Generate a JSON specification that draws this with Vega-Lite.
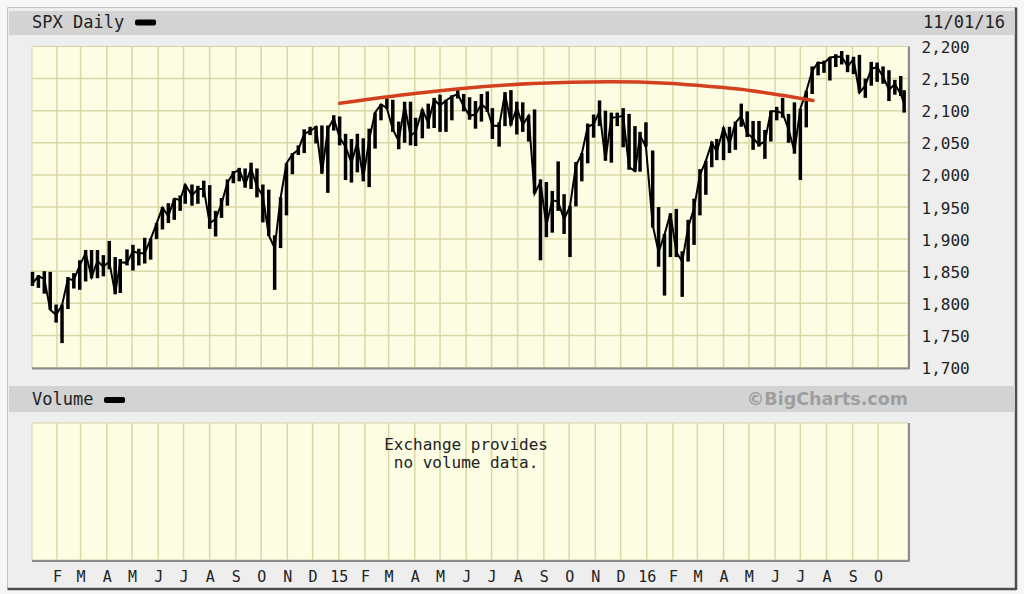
{
  "$schema": "https://vega.github.io/schema/vega-lite/v6.json",
  "width": 876,
  "height": 321,
  "autosize": {"type": "none"},
  "padding": {"left": 32, "top": 46.5, "right": 116, "bottom": 226.5},
  "background": "#eeeeee",
  "config": {"view": {"stroke": null}},
  "resolve": {"axis": {"x": "independent", "y": "independent"}},
  "datasets": {
    "px": [
      {"d":"2014-01-03","lo":1827,"hi":1849,"c":1831},
      {"d":"2014-01-10","lo":1824,"hi":1844,"c":1842},
      {"d":"2014-01-17","lo":1815,"hi":1850,"c":1838},
      {"d":"2014-01-24","lo":1790,"hi":1849,"c":1790},
      {"d":"2014-01-31","lo":1770,"hi":1798,"c":1782},
      {"d":"2014-02-07","lo":1738,"hi":1798,"c":1797},
      {"d":"2014-02-14","lo":1791,"hi":1841,"c":1838},
      {"d":"2014-02-21","lo":1823,"hi":1847,"c":1836},
      {"d":"2014-02-28","lo":1821,"hi":1867,"c":1859},
      {"d":"2014-03-07","lo":1834,"hi":1883,"c":1878},
      {"d":"2014-03-14","lo":1839,"hi":1883,"c":1841},
      {"d":"2014-03-21","lo":1839,"hi":1883,"c":1866},
      {"d":"2014-03-28","lo":1842,"hi":1875,"c":1857},
      {"d":"2014-04-04","lo":1853,"hi":1897,"c":1865},
      {"d":"2014-04-11","lo":1814,"hi":1872,"c":1815},
      {"d":"2014-04-17","lo":1816,"hi":1869,"c":1864},
      {"d":"2014-04-25","lo":1859,"hi":1884,"c":1863},
      {"d":"2014-05-02","lo":1851,"hi":1891,"c":1881},
      {"d":"2014-05-09","lo":1859,"hi":1885,"c":1878},
      {"d":"2014-05-16","lo":1862,"hi":1902,"c":1878},
      {"d":"2014-05-23","lo":1868,"hi":1901,"c":1900},
      {"d":"2014-05-30","lo":1900,"hi":1925,"c":1924},
      {"d":"2014-06-06","lo":1915,"hi":1950,"c":1949},
      {"d":"2014-06-13","lo":1925,"hi":1956,"c":1936},
      {"d":"2014-06-20","lo":1930,"hi":1963,"c":1963},
      {"d":"2014-06-27","lo":1944,"hi":1968,"c":1961},
      {"d":"2014-07-03","lo":1955,"hi":1985,"c":1985},
      {"d":"2014-07-11","lo":1952,"hi":1985,"c":1968},
      {"d":"2014-07-18","lo":1955,"hi":1983,"c":1978},
      {"d":"2014-07-25","lo":1965,"hi":1991,"c":1978},
      {"d":"2014-08-01","lo":1916,"hi":1984,"c":1925},
      {"d":"2014-08-08","lo":1904,"hi":1944,"c":1931},
      {"d":"2014-08-15","lo":1933,"hi":1964,"c":1955},
      {"d":"2014-08-22","lo":1952,"hi":1993,"c":1988},
      {"d":"2014-08-29","lo":1987,"hi":2006,"c":2003},
      {"d":"2014-09-05","lo":1990,"hi":2011,"c":2008},
      {"d":"2014-09-12","lo":1980,"hi":2010,"c":1985},
      {"d":"2014-09-19","lo":1978,"hi":2019,"c":2010},
      {"d":"2014-09-26","lo":1965,"hi":2010,"c":1982},
      {"d":"2014-10-03","lo":1926,"hi":1985,"c":1967},
      {"d":"2014-10-10","lo":1905,"hi":1977,"c":1906},
      {"d":"2014-10-17","lo":1821,"hi":1906,"c":1886},
      {"d":"2014-10-24","lo":1886,"hi":1965,"c":1964},
      {"d":"2014-10-31","lo":1937,"hi":2018,"c":2018},
      {"d":"2014-11-07","lo":2001,"hi":2034,"c":2032},
      {"d":"2014-11-14","lo":2031,"hi":2046,"c":2039},
      {"d":"2014-11-21","lo":2034,"hi":2071,"c":2064},
      {"d":"2014-11-28","lo":2062,"hi":2075,"c":2068},
      {"d":"2014-12-05","lo":2049,"hi":2076,"c":2075},
      {"d":"2014-12-12","lo":2002,"hi":2077,"c":2002},
      {"d":"2014-12-19","lo":1972,"hi":2077,"c":2071},
      {"d":"2014-12-26","lo":2069,"hi":2093,"c":2088},
      {"d":"2015-01-02","lo":2046,"hi":2091,"c":2058},
      {"d":"2015-01-09","lo":1992,"hi":2064,"c":2044},
      {"d":"2015-01-16","lo":1988,"hi":2056,"c":2019},
      {"d":"2015-01-23","lo":2004,"hi":2064,"c":2051},
      {"d":"2015-01-30","lo":1990,"hi":2057,"c":1995},
      {"d":"2015-02-06","lo":1981,"hi":2072,"c":2055},
      {"d":"2015-02-13","lo":2041,"hi":2097,"c":2097},
      {"d":"2015-02-20","lo":2085,"hi":2110,"c":2110},
      {"d":"2015-02-27","lo":2103,"hi":2119,"c":2104},
      {"d":"2015-03-06","lo":2067,"hi":2117,"c":2071},
      {"d":"2015-03-13","lo":2040,"hi":2083,"c":2053},
      {"d":"2015-03-20","lo":2050,"hi":2114,"c":2108},
      {"d":"2015-03-27","lo":2046,"hi":2114,"c":2061},
      {"d":"2015-04-02","lo":2045,"hi":2089,"c":2067},
      {"d":"2015-04-10","lo":2057,"hi":2102,"c":2102},
      {"d":"2015-04-17","lo":2072,"hi":2111,"c":2081},
      {"d":"2015-04-24","lo":2073,"hi":2120,"c":2117},
      {"d":"2015-05-01","lo":2067,"hi":2125,"c":2108},
      {"d":"2015-05-08","lo":2067,"hi":2117,"c":2116},
      {"d":"2015-05-15","lo":2085,"hi":2124,"c":2122},
      {"d":"2015-05-22","lo":2119,"hi":2134,"c":2126},
      {"d":"2015-05-29","lo":2099,"hi":2126,"c":2107},
      {"d":"2015-06-05","lo":2086,"hi":2121,"c":2092},
      {"d":"2015-06-12","lo":2072,"hi":2115,"c":2094},
      {"d":"2015-06-19","lo":2083,"hi":2126,"c":2110},
      {"d":"2015-06-26","lo":2098,"hi":2130,"c":2102},
      {"d":"2015-07-02","lo":2056,"hi":2104,"c":2077},
      {"d":"2015-07-10","lo":2044,"hi":2082,"c":2076},
      {"d":"2015-07-17","lo":2076,"hi":2129,"c":2127},
      {"d":"2015-07-24","lo":2077,"hi":2132,"c":2079},
      {"d":"2015-07-31","lo":2063,"hi":2114,"c":2104},
      {"d":"2015-08-07","lo":2067,"hi":2113,"c":2078},
      {"d":"2015-08-14","lo":2052,"hi":2093,"c":2092},
      {"d":"2015-08-21","lo":1971,"hi":2102,"c":1971},
      {"d":"2015-08-28","lo":1867,"hi":1993,"c":1989},
      {"d":"2015-09-04","lo":1903,"hi":1989,"c":1921},
      {"d":"2015-09-11","lo":1910,"hi":1975,"c":1961},
      {"d":"2015-09-18","lo":1944,"hi":2021,"c":1958},
      {"d":"2015-09-25","lo":1908,"hi":1970,"c":1931},
      {"d":"2015-10-02","lo":1872,"hi":1952,"c":1951},
      {"d":"2015-10-09","lo":1951,"hi":2020,"c":2014},
      {"d":"2015-10-16","lo":1990,"hi":2034,"c":2033},
      {"d":"2015-10-23","lo":2018,"hi":2080,"c":2075},
      {"d":"2015-10-30","lo":2058,"hi":2094,"c":2079},
      {"d":"2015-11-06","lo":2076,"hi":2116,"c":2099},
      {"d":"2015-11-13","lo":2022,"hi":2100,"c":2023},
      {"d":"2015-11-20","lo":2019,"hi":2097,"c":2089},
      {"d":"2015-11-27","lo":2076,"hi":2097,"c":2090},
      {"d":"2015-12-04","lo":2043,"hi":2104,"c":2092},
      {"d":"2015-12-11","lo":2008,"hi":2095,"c":2012},
      {"d":"2015-12-18","lo":2005,"hi":2076,"c":2006},
      {"d":"2015-12-24","lo":2005,"hi":2067,"c":2061},
      {"d":"2015-12-31","lo":2044,"hi":2082,"c":2044},
      {"d":"2016-01-08","lo":1918,"hi":2038,"c":1922},
      {"d":"2016-01-15","lo":1857,"hi":1950,"c":1880},
      {"d":"2016-01-22","lo":1812,"hi":1908,"c":1907},
      {"d":"2016-01-29","lo":1872,"hi":1940,"c":1940},
      {"d":"2016-02-05","lo":1872,"hi":1947,"c":1880},
      {"d":"2016-02-12","lo":1810,"hi":1881,"c":1865},
      {"d":"2016-02-19","lo":1865,"hi":1930,"c":1918},
      {"d":"2016-02-26","lo":1891,"hi":1963,"c":1948},
      {"d":"2016-03-04","lo":1937,"hi":2009,"c":2000},
      {"d":"2016-03-11","lo":1969,"hi":2022,"c":2022},
      {"d":"2016-03-18","lo":2012,"hi":2052,"c":2050},
      {"d":"2016-03-24","lo":2023,"hi":2056,"c":2036},
      {"d":"2016-04-01","lo":2023,"hi":2074,"c":2073},
      {"d":"2016-04-08","lo":2034,"hi":2075,"c":2048},
      {"d":"2016-04-15","lo":2039,"hi":2083,"c":2081},
      {"d":"2016-04-22","lo":2075,"hi":2111,"c":2092},
      {"d":"2016-04-29","lo":2059,"hi":2099,"c":2065},
      {"d":"2016-05-06","lo":2039,"hi":2084,"c":2057},
      {"d":"2016-05-13","lo":2044,"hi":2084,"c":2047},
      {"d":"2016-05-20","lo":2025,"hi":2070,"c":2052},
      {"d":"2016-05-27","lo":2052,"hi":2100,"c":2099},
      {"d":"2016-06-03","lo":2085,"hi":2106,"c":2099},
      {"d":"2016-06-10","lo":2089,"hi":2120,"c":2096},
      {"d":"2016-06-17","lo":2050,"hi":2095,"c":2071},
      {"d":"2016-06-24","lo":2033,"hi":2113,"c":2037},
      {"d":"2016-07-01","lo":1992,"hi":2103,"c":2103},
      {"d":"2016-07-08","lo":2074,"hi":2131,"c":2130},
      {"d":"2016-07-15","lo":2126,"hi":2169,"c":2162},
      {"d":"2016-07-22","lo":2155,"hi":2176,"c":2175},
      {"d":"2016-07-29","lo":2159,"hi":2178,"c":2174},
      {"d":"2016-08-05","lo":2147,"hi":2183,"c":2183},
      {"d":"2016-08-12","lo":2168,"hi":2188,"c":2184},
      {"d":"2016-08-19","lo":2172,"hi":2193,"c":2184},
      {"d":"2016-08-26","lo":2160,"hi":2187,"c":2169},
      {"d":"2016-09-02","lo":2157,"hi":2184,"c":2180},
      {"d":"2016-09-09","lo":2128,"hi":2187,"c":2128},
      {"d":"2016-09-16","lo":2120,"hi":2150,"c":2139},
      {"d":"2016-09-23","lo":2139,"hi":2176,"c":2165},
      {"d":"2016-09-30","lo":2145,"hi":2175,"c":2168},
      {"d":"2016-10-07","lo":2142,"hi":2169,"c":2153},
      {"d":"2016-10-14","lo":2115,"hi":2163,"c":2133},
      {"d":"2016-10-21","lo":2125,"hi":2148,"c":2141},
      {"d":"2016-10-28","lo":2123,"hi":2154,"c":2126},
      {"d":"2016-11-01","lo":2097,"hi":2132,"c":2111}
    ],
    "arc": [
      {"d":"2015-01-02","v":2111.5},
      {"d":"2015-03-14","v":2124.0},
      {"d":"2015-05-24","v":2134.3},
      {"d":"2015-08-19","v":2142.2},
      {"d":"2015-11-18","v":2145.0},
      {"d":"2016-01-25","v":2142.8},
      {"d":"2016-03-04","v":2139.1},
      {"d":"2016-05-02","v":2131.6},
      {"d":"2016-06-18","v":2122.1},
      {"d":"2016-07-16","v":2115.9}
    ],
    "months": [
      {"m":"2014-02-01"},{"m":"2014-03-01"},{"m":"2014-04-01"},{"m":"2014-05-01"},{"m":"2014-06-01"},{"m":"2014-07-01"},
      {"m":"2014-08-01"},{"m":"2014-09-01"},{"m":"2014-10-01"},{"m":"2014-11-01"},{"m":"2014-12-01"},
      {"m":"2015-01-01"},{"m":"2015-02-01"},{"m":"2015-03-01"},{"m":"2015-04-01"},{"m":"2015-05-01"},{"m":"2015-06-01"},
      {"m":"2015-07-01"},{"m":"2015-08-01"},{"m":"2015-09-01"},{"m":"2015-10-01"},{"m":"2015-11-01"},{"m":"2015-12-01"},
      {"m":"2016-01-01"},{"m":"2016-02-01"},{"m":"2016-03-01"},{"m":"2016-04-01"},{"m":"2016-05-01"},{"m":"2016-06-01"},
      {"m":"2016-07-01"},{"m":"2016-08-01"},{"m":"2016-09-01"},{"m":"2016-10-01"}
    ],
    "levels": [
      {"lv":1750},{"lv":1800},{"lv":1850},{"lv":1900},{"lv":1950},{"lv":2000},{"lv":2050},{"lv":2100},{"lv":2150}
    ]
  },
  "layer": [
    {
      "data": {"values": [{}]},
      "mark": {"type": "rect", "fill": "transparent", "stroke": "#f6f6f6", "strokeWidth": 15},
      "encoding": {
        "x": {"datum": {"year":2013,"month":11,"date":25,"hours":12,"utc":true}, "type": "temporal", "axis": null},
        "x2": {"datum": {"year":2017,"month":3,"date":23,"hours":1,"minutes":40,"utc":true}},
        "y": {"datum": 2272.4, "type": "quantitative", "axis": null},
        "y2": {"datum": 1347.2}
      }
    },
    {
      "data": {"values": [{}]},
      "mark": {"type": "rule", "stroke": "#c4c4c4", "strokeWidth": 1},
      "encoding": {
        "x": {"datum": {"year":2013,"month":12,"date":4,"hours":10,"utc":true}, "type": "temporal", "axis": null},
        "y": {"datum": 2260.7, "type": "quantitative", "axis": null},
        "y2": {"datum": 1355.0}
      }
    },
    {
      "data": {"values": [{}]},
      "mark": {"type": "rule", "stroke": "#c4c4c4", "strokeWidth": 1},
      "encoding": {
        "x": {"datum": {"year":2013,"month":12,"date":4,"hours":10,"utc":true}, "type": "temporal", "axis": null},
        "x2": {"datum": {"year":2017,"month":3,"date":13,"hours":14,"utc":true}},
        "y": {"datum": 2260.7, "type": "quantitative", "axis": null}
      }
    },
    {
      "data": {"values": [{}]},
      "mark": {"type": "rule", "stroke": "#4d4d4d", "strokeWidth": 2.5},
      "encoding": {
        "x": {"datum": {"year":2017,"month":3,"date":13,"hours":14,"utc":true}, "type": "temporal", "axis": null},
        "y": {"datum": 2260.7, "type": "quantitative", "axis": null},
        "y2": {"datum": 1353.4}
      }
    },
    {
      "data": {"values": [{}]},
      "mark": {"type": "rule", "stroke": "#4d4d4d", "strokeWidth": 2.5},
      "encoding": {
        "x": {"datum": {"year":2013,"month":12,"date":4,"hours":10,"utc":true}, "type": "temporal", "axis": null},
        "x2": {"datum": {"year":2017,"month":3,"date":13,"hours":14,"utc":true}},
        "y": {"datum": 1355.0, "type": "quantitative", "axis": null}
      }
    },
    {
      "data": {"values": [{}]},
      "mark": {"type": "rect", "fill": "#d3d3d3"},
      "encoding": {
        "x": {"datum": {"year":2013,"month":12,"date":6,"hours":4,"utc":true}, "type": "temporal", "axis": null},
        "x2": {"datum": {"year":2017,"month":3,"date":12,"hours":10,"utc":true}},
        "y": {"datum": 2255.3, "type": "quantitative", "axis": null},
        "y2": {"datum": 2217.9}
      }
    },
    {
      "data": {"values": [{}]},
      "mark": {"type": "rect", "fill": "#d3d3d3"},
      "encoding": {
        "x": {"datum": {"year":2013,"month":12,"date":6,"hours":4,"utc":true}, "type": "temporal", "axis": null},
        "x2": {"datum": {"year":2017,"month":3,"date":12,"hours":10,"utc":true}},
        "y": {"datum": 1671.2, "type": "quantitative", "axis": null},
        "y2": {"datum": 1630.7}
      }
    },
    {
      "data": {"values": [{}]},
      "mark": {"type": "rect", "fill": "#fdfde4", "stroke": "#d6d3a2", "strokeWidth": 1},
      "encoding": {
        "x": {"datum": {"year":2014,"month":1,"date":2,"hours":10,"utc":true}, "type": "temporal", "axis": null},
        "x2": {"datum": {"year":2016,"month":11,"date":5,"hours":14,"utc":true}},
        "y": {"datum": 2200, "type": "quantitative", "axis": null},
        "y2": {"datum": 1700}
      }
    },
    {
      "data": {"values": [{}]},
      "mark": {"type": "rect", "fill": "#fdfde4", "stroke": "#d6d3a2", "strokeWidth": 1},
      "encoding": {
        "x": {"datum": {"year":2014,"month":1,"date":2,"hours":10,"utc":true}, "type": "temporal", "axis": null},
        "x2": {"datum": {"year":2016,"month":11,"date":5,"hours":14,"utc":true}},
        "y": {"datum": 1613.6, "type": "quantitative", "axis": null},
        "y2": {"datum": 1400.2}
      }
    },
    {
      "data": {"name": "months"},
      "mark": {"type": "rule", "stroke": "#dad7a6", "strokeWidth": 1.5},
      "encoding": {
        "x": {"field": "m", "type": "temporal", "axis": null},
        "y": {"datum": 2200, "type": "quantitative", "axis": null},
        "y2": {"datum": 1700}
      }
    },
    {
      "data": {"name": "months"},
      "mark": {"type": "rule", "stroke": "#dad7a6", "strokeWidth": 1.5},
      "encoding": {
        "x": {"field": "m", "type": "temporal", "axis": null},
        "y": {"datum": 1613.6, "type": "quantitative", "axis": null},
        "y2": {"datum": 1400.2}
      }
    },
    {
      "data": {"name": "levels"},
      "mark": {"type": "rule", "stroke": "#dad7a6", "strokeWidth": 1.5},
      "encoding": {
        "x": {"datum": {"year":2014,"month":1,"date":2,"hours":10,"utc":true}, "type": "temporal", "axis": null},
        "x2": {"datum": {"year":2016,"month":11,"date":5,"hours":14,"utc":true}},
        "y": {"field": "lv", "type": "quantitative", "axis": null}
      }
    },
    {
      "data": {"values": [{}]},
      "mark": {"type": "rule", "stroke": "#8a8a8a", "strokeWidth": 2},
      "encoding": {
        "x": {"datum": {"year":2014,"month":1,"date":2,"hours":10,"utc":true}, "type": "temporal", "axis": null},
        "x2": {"datum": {"year":2016,"month":11,"date":6,"hours":18,"minutes":30,"utc":true}},
        "y": {"datum": 1698.5, "type": "quantitative", "axis": null}
      }
    },
    {
      "data": {"values": [{}]},
      "mark": {"type": "rule", "stroke": "#8a8a8a", "strokeWidth": 2},
      "encoding": {
        "x": {"datum": {"year":2016,"month":11,"date":6,"hours":18,"minutes":30,"utc":true}, "type": "temporal", "axis": null},
        "y": {"datum": 2200, "type": "quantitative", "axis": null},
        "y2": {"datum": 1697.8}
      }
    },
    {
      "data": {"values": [{}]},
      "mark": {"type": "rule", "stroke": "#8a8a8a", "strokeWidth": 2},
      "encoding": {
        "x": {"datum": {"year":2014,"month":1,"date":2,"hours":10,"utc":true}, "type": "temporal", "axis": null},
        "x2": {"datum": {"year":2016,"month":11,"date":6,"hours":18,"minutes":30,"utc":true}},
        "y": {"datum": 1398.6, "type": "quantitative", "axis": null}
      }
    },
    {
      "data": {"values": [{}]},
      "mark": {"type": "rule", "stroke": "#8a8a8a", "strokeWidth": 2},
      "encoding": {
        "x": {"datum": {"year":2016,"month":11,"date":6,"hours":18,"minutes":30,"utc":true}, "type": "temporal", "axis": null},
        "y": {"datum": 1613.6, "type": "quantitative", "axis": null},
        "y2": {"datum": 1397.9}
      }
    },
    {
      "data": {"name": "px"},
      "mark": {"type": "rule", "stroke": "#000000", "strokeWidth": 3.5},
      "encoding": {
        "x": {
          "field": "d", "type": "temporal", "title": null,
          "scale": {"type": "utc", "domain": [{"year":2014,"month":1,"date":2,"hours":10,"utc":true}, {"year":2016,"month":11,"date":5,"hours":14,"utc":true}]},
          "axis": {
            "orient": "bottom", "offset": 192.5, "tickCount": "month",
            "labelExpr": "datum.value < 1389744000000 || datum.value > 1476489600000 ? '' : (utcmonth(datum.value) == 0 ? utcFormat(datum.value, '%y') : slice(utcFormat(datum.value, '%b'), 0, 1))",
            "grid": false, "ticks": false, "domain": false,
            "labelFont": "DejaVu Sans Mono", "labelFontSize": 15, "labelColor": "#222222",
            "labelPadding": 9, "labelOverlap": false, "labelFlush": false, "labelBound": false,
            "labelAlign": "center", "zindex": 1, "title": null
          }
        },
        "y": {
          "field": "lo", "type": "quantitative", "title": null,
          "scale": {"domain": [1700, 2200], "zero": false, "nice": false},
          "axis": {
            "orient": "right",
            "values": [1700, 1750, 1800, 1850, 1900, 1950, 2000, 2050, 2100, 2150, 2200],
            "format": ",.0f", "labelAlign": "left", "labelBaseline": "middle", "labelPadding": 13, "labelOffset": 1,
            "grid": false, "ticks": false, "domain": false,
            "labelFont": "DejaVu Sans Mono", "labelFontSize": 16, "labelColor": "#222222",
            "labelOverlap": false, "labelFlush": false, "labelBound": false, "zindex": 1, "title": null
          }
        },
        "y2": {"field": "hi"}
      }
    },
    {
      "data": {"name": "px"},
      "mark": {"type": "line", "stroke": "#000000", "strokeWidth": 2},
      "encoding": {
        "x": {"field": "d", "type": "temporal", "axis": null},
        "y": {"field": "c", "type": "quantitative", "axis": null}
      }
    },
    {
      "data": {"name": "arc"},
      "mark": {"type": "line", "stroke": "#d3401f", "strokeWidth": 3.5, "interpolate": "monotone", "strokeCap": "round"},
      "encoding": {
        "x": {"field": "d", "type": "temporal", "axis": null},
        "y": {"field": "v", "type": "quantitative", "axis": null}
      }
    },
    {
      "data": {"values": [{}]},
      "mark": {"type": "text", "text": "SPX Daily", "font": "DejaVu Sans Mono", "fontSize": 17, "fill": "#222222", "align": "left", "baseline": "middle"},
      "encoding": {
        "x": {"datum": {"year":2014,"month":1,"date":2,"hours":10,"utc":true}, "type": "temporal", "axis": null},
        "y": {"datum": 2236.6, "type": "quantitative", "axis": null}
      }
    },
    {
      "data": {"values": [{}]},
      "mark": {"type": "rect", "fill": "#000000", "cornerRadius": 2},
      "encoding": {
        "x": {"datum": {"year":2014,"month":5,"date":4,"hours":12,"utc":true}, "type": "temporal", "axis": null},
        "x2": {"datum": {"year":2014,"month":5,"date":29,"hours":10,"utc":true}},
        "y": {"datum": 2242.1, "type": "quantitative", "axis": null},
        "y2": {"datum": 2232.7}
      }
    },
    {
      "data": {"values": [{}]},
      "mark": {"type": "text", "text": "11/01/16", "font": "DejaVu Sans Mono", "fontSize": 17, "fill": "#222222", "align": "right", "baseline": "middle"},
      "encoding": {
        "x": {"datum": {"year":2017,"month":2,"date":28,"hours":12,"utc":true}, "type": "temporal", "axis": null},
        "y": {"datum": 2236.6, "type": "quantitative", "axis": null}
      }
    },
    {
      "data": {"values": [{}]},
      "mark": {"type": "text", "text": "Volume", "font": "DejaVu Sans Mono", "fontSize": 17, "fill": "#222222", "align": "left", "baseline": "middle"},
      "encoding": {
        "x": {"datum": {"year":2014,"month":1,"date":2,"hours":10,"utc":true}, "type": "temporal", "axis": null},
        "y": {"datum": 1649.4, "type": "quantitative", "axis": null}
      }
    },
    {
      "data": {"values": [{}]},
      "mark": {"type": "rect", "fill": "#000000", "cornerRadius": 2},
      "encoding": {
        "x": {"datum": {"year":2014,"month":3,"date":28,"hours":18,"utc":true}, "type": "temporal", "axis": null},
        "x2": {"datum": {"year":2014,"month":4,"date":22,"hours":16,"utc":true}},
        "y": {"datum": 1654.1, "type": "quantitative", "axis": null},
        "y2": {"datum": 1644.8}
      }
    },
    {
      "data": {"values": [{}]},
      "mark": {"type": "text", "text": "©BigCharts.com", "font": "DejaVu Sans", "fontWeight": "bold", "fontSize": 17.5, "fill": "#9e9e9e", "align": "right", "baseline": "middle"},
      "encoding": {
        "x": {"datum": {"year":2016,"month":11,"date":5,"hours":14,"utc":true}, "type": "temporal", "axis": null},
        "y": {"datum": 1649.4, "type": "quantitative", "axis": null}
      }
    },
    {
      "data": {"values": [{}]},
      "mark": {"type": "text", "text": "Exchange provides", "font": "DejaVu Sans Mono", "fontSize": 16, "fill": "#222222", "align": "center", "baseline": "middle"},
      "encoding": {
        "x": {"datum": {"year":2015,"month":5,"date":31,"hours":19,"utc":true}, "type": "temporal", "axis": null},
        "y": {"datum": 1580.0, "type": "quantitative", "axis": null}
      }
    },
    {
      "data": {"values": [{}]},
      "mark": {"type": "text", "text": "no volume data.", "font": "DejaVu Sans Mono", "fontSize": 16, "fill": "#222222", "align": "center", "baseline": "middle"},
      "encoding": {
        "x": {"datum": {"year":2015,"month":5,"date":31,"hours":19,"utc":true}, "type": "temporal", "axis": null},
        "y": {"datum": 1552.0, "type": "quantitative", "axis": null}
      }
    }
  ]
}
